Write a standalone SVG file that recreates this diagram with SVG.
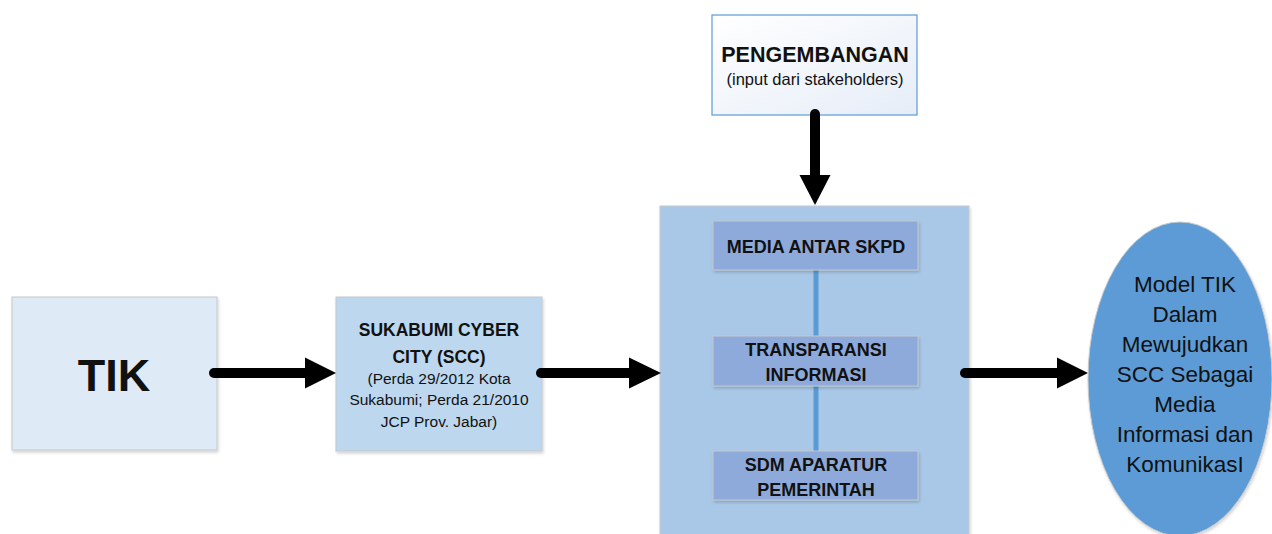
<svg xmlns="http://www.w3.org/2000/svg" width="1272" height="534" viewBox="0 0 1272 534">
  <style>
    text { font-family: "Liberation Sans", Arial, sans-serif; fill: #111; text-anchor: middle; }
    .b { font-weight: bold; }
    .box { stroke: #c4c8cc; stroke-width: 1; }
    .arrow { stroke: #000; stroke-width: 10; stroke-linecap: round; fill: none; }
    .head { fill: #000; }
    .link { stroke: #5b9bd5; stroke-width: 5; }
  </style>
  <defs>
    <linearGradient id="devGrad" x1="0" y1="0" x2="1" y2="1">
      <stop offset="0" stop-color="#ffffff"/>
      <stop offset="1" stop-color="#e6edf8"/>
    </linearGradient>
    <filter id="shadow" x="-10%" y="-10%" width="120%" height="120%">
      <feDropShadow dx="1" dy="2" stdDeviation="1.5" flood-color="#000" flood-opacity="0.18"/>
    </filter>
  </defs>

  <rect width="1272" height="534" fill="#ffffff"/>

  <!-- input node -->
  <g id="tik">
    <rect class="box" x="12" y="297" width="205" height="153" fill="#deebf7" filter="url(#shadow)"/>
    <text class="b" x="114" y="391" font-size="45">TIK</text>
  </g>

  <!-- policy basis -->
  <g id="scc">
    <rect class="box" x="336" y="297" width="206" height="154" fill="#bdd7ee" filter="url(#shadow)"/>
    <text class="b" x="439" y="336" font-size="17.5">SUKABUMI CYBER</text>
    <text class="b" x="439" y="363" font-size="17.5">CITY (SCC)</text>
    <text x="439" y="384" font-size="15.5">(Perda 29/2012 Kota</text>
    <text x="439" y="405" font-size="15.5">Sukabumi; Perda 21/2010</text>
    <text x="439" y="427" font-size="15.5">JCP Prov. Jabar)</text>
  </g>

  <!-- development input -->
  <g id="pengembangan">
    <rect x="712" y="15" width="205" height="100" fill="url(#devGrad)" stroke="#5b9bd5" stroke-width="1.2"/>
    <text class="b" x="815" y="62" font-size="21.5">PENGEMBANGAN</text>
    <text x="815" y="85" font-size="16.5">(input dari stakeholders)</text>
  </g>

  <!-- central container with its three components -->
  <g id="komponen">
    <rect class="box" x="660" y="206" width="309" height="340" fill="#a9c8e8" filter="url(#shadow)"/>
  </g>

  <g id="connectors">
    <line class="link" x1="816" y1="270" x2="816" y2="336"/>
    <line class="link" x1="816" y1="386" x2="816" y2="451"/>

    <line class="arrow" x1="214" y1="373" x2="308" y2="373"/>
    <polygon class="head" points="305,357.5 336,373 305,388.5"/>

    <line class="arrow" x1="541" y1="373" x2="632" y2="373"/>
    <polygon class="head" points="629,357.5 661,373 629,388.5"/>

    <line class="arrow" x1="815" y1="114" x2="815" y2="178"/>
    <polygon class="head" points="799.5,175 830.5,175 815,205"/>

    <line class="arrow" x1="965" y1="373" x2="1060" y2="373"/>
    <polygon class="head" points="1057,357.5 1088,373 1057,388.5"/>
  </g>

  <g id="media-antar-skpd">
    <rect class="box" x="713" y="221" width="205" height="49" fill="#8eaadb" filter="url(#shadow)"/>
    <text class="b" x="816" y="253" font-size="18">MEDIA ANTAR SKPD</text>
  </g>

  <g id="transparansi">
    <rect class="box" x="713" y="336" width="205" height="50" fill="#8eaadb" filter="url(#shadow)"/>
    <text class="b" x="816" y="356" font-size="18">TRANSPARANSI</text>
    <text class="b" x="816" y="381" font-size="18">INFORMASI</text>
  </g>

  <g id="sdm">
    <rect class="box" x="713" y="451" width="205" height="49" fill="#8eaadb" filter="url(#shadow)"/>
    <text class="b" x="816" y="471" font-size="18">SDM APARATUR</text>
    <text class="b" x="816" y="496" font-size="18">PEMERINTAH</text>
  </g>

  <!-- outcome -->
  <g id="model-tik">
    <ellipse cx="1180" cy="379" rx="92" ry="157" fill="#5b9bd5" stroke="#c4c8cc" stroke-width="1" filter="url(#shadow)"/>
    <text x="1185" y="292" font-size="22.5">Model TIK</text>
    <text x="1185" y="322" font-size="22.5">Dalam</text>
    <text x="1185" y="352" font-size="22.5">Mewujudkan</text>
    <text x="1185" y="382" font-size="22.5">SCC Sebagai</text>
    <text x="1185" y="412" font-size="22.5">Media</text>
    <text x="1185" y="442" font-size="22.5">Informasi dan</text>
    <text x="1185" y="472" font-size="22.5">KomunikasI</text>
  </g>
</svg>
